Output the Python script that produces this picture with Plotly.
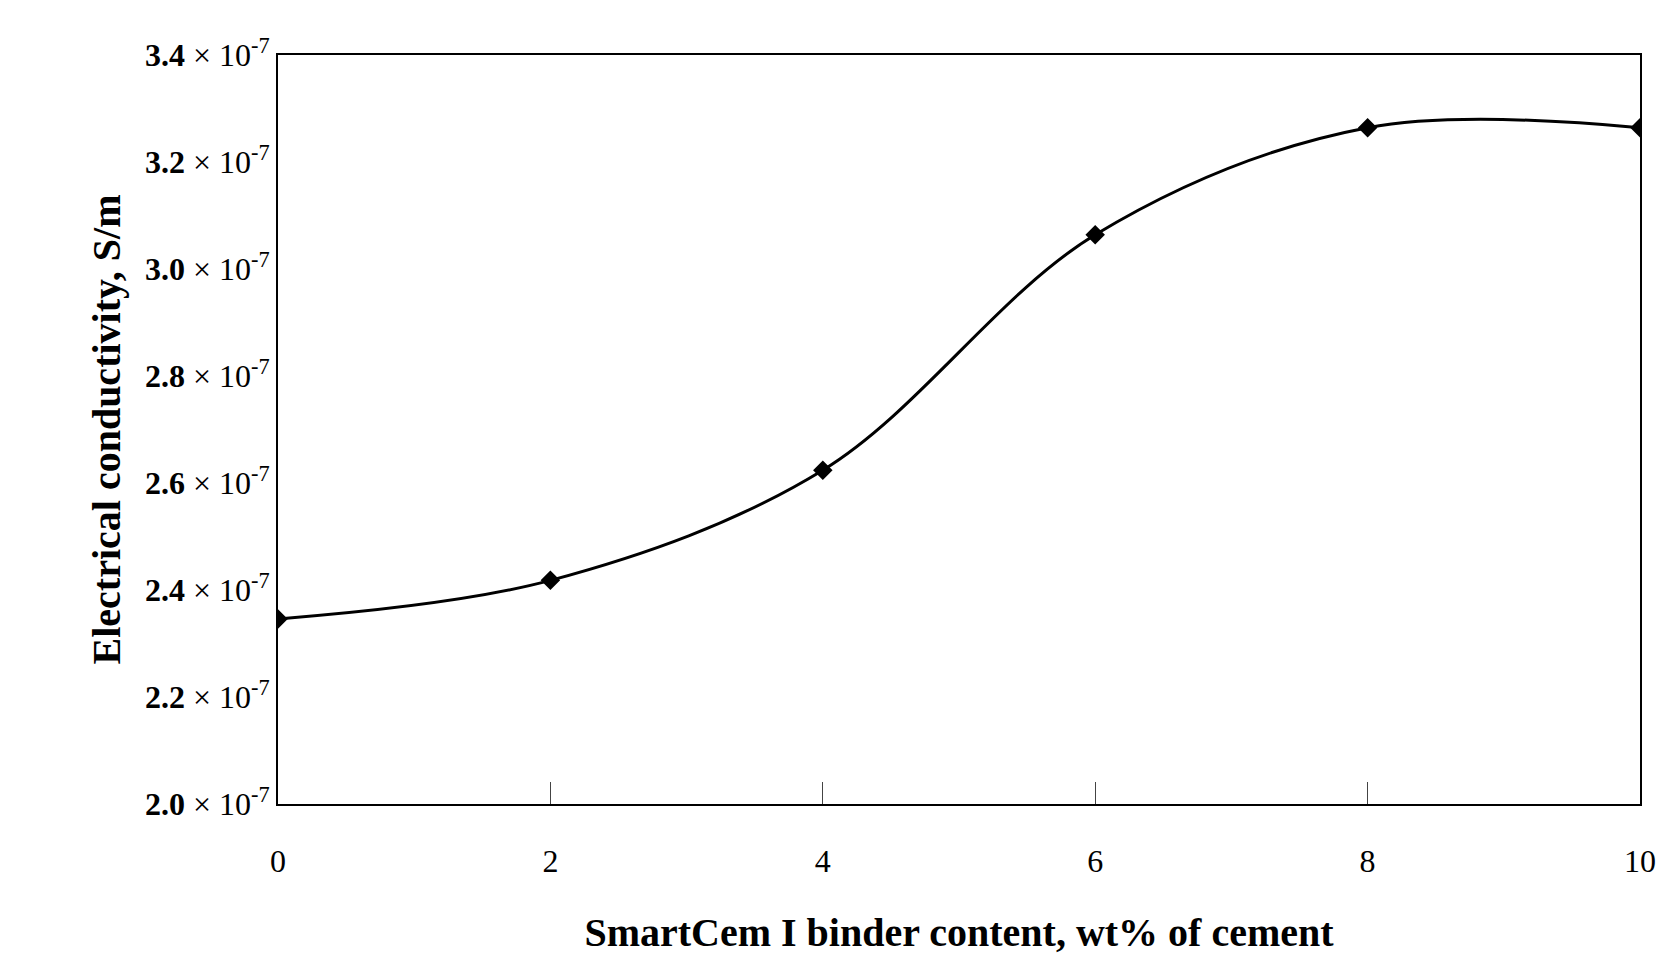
import plotly.graph_objects as go

content = [0, 2, 4, 6, 8, 10]
conductivity = [2.346e-7, 2.418e-7, 2.624e-7, 3.064e-7, 3.264e-7, 3.264e-7]
ytick_vals = [2.0e-7, 2.2e-7, 2.4e-7, 2.6e-7, 2.8e-7, 3.0e-7, 3.2e-7, 3.4e-7]
ytick_text = [f"<b>{v*1e7:.1f}</b> × 10<sup>-7</sup>" for v in ytick_vals]
xtick_vals = [0, 2, 4, 6, 8, 10]
xtick_text = [str(v) for v in xtick_vals]

font = "Liberation Serif"
fig = go.Figure(go.Scatter(
    x=content, y=conductivity, mode="lines+markers",
    line=dict(color="black", width=3, shape="spline", smoothing=1.0),
    marker=dict(symbol="diamond", size=15, color="black"),
))
fig.update_layout(
    width=1680, height=980, plot_bgcolor="white", paper_bgcolor="white",
    margin=dict(l=270, r=48, t=47, b=184), showlegend=False,
    font=dict(family=font, color="black", size=32),
)
fig.update_xaxes(range=[0, 10], tickvals=xtick_vals, ticktext=xtick_text,
                 ticks="inside", ticklen=22,
                 showline=True, linecolor="black", linewidth=2, mirror=True,
                 showgrid=False, zeroline=False, tickfont=dict(size=32),
                 ticklabelstandoff=28,
                 title=dict(text="<b>SmartCem I binder content, wt% of cement</b>",
                            font=dict(size=40), standoff=40))
fig.update_yaxes(range=[2.0e-7, 3.4e-7], tickvals=ytick_vals, ticktext=ytick_text,
                 ticks="", showline=True, linecolor="black", linewidth=2, mirror=True,
                 showgrid=False, zeroline=False, tickfont=dict(size=32),
                 title=dict(text="<b>Electrical conductivity, S/m</b>",
                            font=dict(size=40), standoff=12))
fig.write_html("out.html")
